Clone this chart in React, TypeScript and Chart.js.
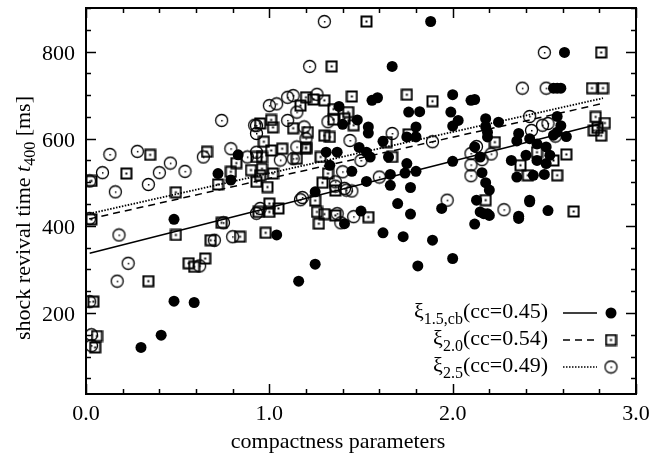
import React, { useEffect, useRef } from "react";
import { Chart, registerables } from "chart.js";

Chart.register(...registerables);

// ---- data ----
const xi15: [number, number][] = [
  [0.30, 121], [0.41, 149], [0.48, 227], [0.59, 224], [0.48, 415], [0.72, 520], [0.79, 505], [0.83, 563],
  [1.04, 379], [1.16, 273], [1.25, 312], [1.25, 478], [1.41, 405], [1.50, 434], [1.53, 502], [1.62, 384],
  [1.66, 518], [1.66, 493], [1.70, 451], [1.73, 375], [1.75, 543], [1.74, 521], [1.77, 427], [1.77, 488],
  [1.80, 525], [1.81, 308], [1.89, 367], [1.94, 440], [2.00, 325], [1.33, 539], [1.31, 569], [1.37, 569],
  [1.45, 525], [1.49, 580], [1.53, 569], [1.55, 558], [1.62, 594], [1.65, 558], [1.40, 633], [1.48, 643],
  [1.54, 627], [1.54, 613], [1.38, 674], [1.56, 688], [1.59, 694], [1.67, 766], [1.88, 869], [1.76, 661],
  [1.82, 662], [1.80, 627], [1.80, 604], [1.75, 604], [2.00, 701], [2.10, 688], [2.12, 690], [1.99, 661],
  [2.03, 642], [2.00, 629], [2.18, 646], [2.18, 628], [2.19, 615], [2.19, 604], [2.25, 638], [2.36, 612],
  [2.35, 595], [2.42, 600], [2.46, 588], [2.51, 581], [2.53, 562], [2.51, 543], [2.50, 518], [2.57, 651],
  [2.59, 630], [2.57, 615], [2.62, 605], [2.55, 608], [2.12, 581], [2.15, 558], [2.16, 522], [2.18, 499],
  [2.20, 482], [2.13, 459], [2.15, 432], [2.19, 428], [2.00, 548], [2.32, 550], [2.40, 562], [2.35, 512],
  [2.42, 459], [2.36, 422], [2.52, 435], [2.44, 516], [2.46, 550], [2.61, 798], [2.55, 716], [2.57, 716],
  [2.59, 716], [2.12, 404], [2.17, 428], [2.20, 424], [2.36, 417], [2.42, 455],
];

const xi20: [number, number][] = [
  [0.03, 415], [0.49, 379], [0.74, 407], [0.68, 367], [0.84, 375], [0.56, 314], [0.59, 306], [0.65, 325],
  [0.34, 273], [0.04, 226], [0.06, 147], [0.05, 121], [0.35, 563], [0.22, 520], [0.03, 503], [0.66, 570],
  [0.49, 477], [0.72, 495], [0.79, 524], [0.82, 544], [0.90, 528], [0.93, 558], [0.93, 501], [0.95, 635],
  [1.01, 643], [1.02, 626], [0.97, 593], [1.01, 573], [1.07, 577], [0.96, 558], [0.96, 531], [0.95, 516],
  [1.02, 520], [1.15, 554], [1.20, 577], [1.13, 624], [1.17, 676], [1.20, 695], [1.53, 869], [1.34, 766],
  [1.24, 690], [1.30, 688], [1.45, 697], [1.75, 701], [1.89, 686], [1.35, 668], [1.43, 661], [1.35, 644],
  [1.41, 646], [1.46, 631], [1.21, 615], [1.30, 607], [1.33, 604], [1.28, 558], [0.99, 489], [1.32, 520],
  [1.29, 499], [1.36, 481], [1.25, 458], [1.67, 558], [1.64, 592], [1.76, 610], [1.00, 451], [1.00, 432],
  [1.05, 440], [1.26, 432], [1.54, 420], [0.98, 384], [0.94, 432], [1.27, 405], [1.30, 427], [1.36, 424],
  [2.81, 798], [2.76, 716], [2.82, 716], [2.78, 650], [2.83, 636], [2.79, 625], [2.77, 619], [2.81, 607],
  [2.23, 592], [2.62, 564], [2.37, 539], [2.41, 516], [2.57, 516], [2.55, 550], [2.46, 569], [2.18, 459],
  [2.66, 433], [1.20, 580],
];

const xi25: [number, number][] = [
  [0.74, 642], [0.93, 630], [0.93, 612], [0.79, 577], [0.93, 569], [0.88, 558], [0.64, 558], [0.28, 571],
  [0.13, 564], [0.09, 522], [0.46, 544], [0.40, 522], [0.54, 525], [0.34, 495], [0.16, 478], [0.02, 503],
  [0.93, 429], [0.02, 417], [0.18, 379], [0.23, 314], [0.17, 273], [0.75, 407], [0.70, 367], [0.80, 375],
  [0.62, 308], [0.02, 226], [0.03, 150], [0.03, 125], [1.00, 676], [1.04, 680], [1.10, 695], [1.13, 699],
  [1.15, 661], [1.10, 642], [1.19, 627], [0.92, 631], [1.06, 551], [1.15, 581], [1.20, 600], [1.13, 554],
  [1.30, 869], [1.22, 766], [1.26, 702], [1.32, 639], [1.44, 596], [1.67, 612], [1.89, 593], [1.50, 550],
  [1.60, 512], [1.17, 460], [1.36, 501], [1.42, 482], [0.95, 440], [1.37, 428], [1.18, 465], [1.40, 524],
  [1.41, 486], [1.36, 491], [1.45, 480], [1.39, 407], [1.46, 421], [1.97, 459], [2.50, 798], [2.38, 716],
  [2.51, 716], [2.42, 651], [2.43, 619], [2.49, 631], [2.52, 635], [2.56, 606], [2.13, 582], [2.10, 566],
  [2.21, 565], [2.10, 540], [2.16, 552], [2.10, 515], [2.28, 437],
];

// regression lines (end points)
const fitX = [0.02, 2.82];
const fit15 = [337, 636];
const fit20 = [416, 681];
const fit25 = [428, 693];

// axes
const xMin = 0, xMax = 3.0, xMinorStep = 0.2;
const yMin = 14, yMax = 900, yMinorStep = 50;
const xTickValues = [0, 1, 2, 3];
const xTickLabels = ["0.0", "1.0", "2.0", "3.0"];
const yTickValues = [200, 400, 600, 800];
const yTickLabels = ["200", "400", "600", "800"];
const xTitle = "compactness parameters";

const legendItems = [
  { main: "ξ", sub: "1.5,cb", rest: "(cc=0.45)", dash: [] as number[], marker: "filled" },
  { main: "ξ", sub: "2.0", rest: "(cc=0.54)", dash: [7, 5], marker: "square" },
  { main: "ξ", sub: "2.5", rest: "(cc=0.49)", dash: [1.5, 1.5], marker: "circle" },
];

const FONT = "'Liberation Serif', 'DejaVu Serif', serif";

function makeSquare(): HTMLCanvasElement {
  const c = document.createElement("canvas");
  c.width = 13; c.height = 13;
  const g = c.getContext("2d")!;
  g.strokeStyle = "#000"; g.lineWidth = 2;
  g.strokeRect(1.5, 1.5, 10, 10);
  g.fillStyle = "#000";
  g.fillRect(5.5, 5.5, 2, 2);
  return c;
}
function makeCircle(): HTMLCanvasElement {
  const c = document.createElement("canvas");
  c.width = 15; c.height = 15;
  const g = c.getContext("2d")!;
  g.strokeStyle = "#000"; g.lineWidth = 1.3;
  g.beginPath(); g.arc(7.5, 7.5, 6, 0, Math.PI * 2); g.stroke();
  g.fillStyle = "#000";
  g.fillRect(7, 7, 1.5, 1.5);
  return c;
}

const toPts = (a: [number, number][]) => a.map(([x, y]) => ({ x, y }));
const toLine = (ys: number[]) => fitX.map((x, i) => ({ x, y: ys[i] }));

export default function App() {
  const ref = useRef<HTMLCanvasElement>(null);
  useEffect(() => {
    const sq = makeSquare();
    const ci = makeCircle();

    const framePlugin = {
      id: "frame",
      afterDraw(chart: any) {
        const { ctx, chartArea } = chart;
        const { left, right, top, bottom } = chartArea;
        const xs = chart.scales.x, ys = chart.scales.y;
        ctx.save();
        ctx.strokeStyle = "#000";
        ctx.lineWidth = 1.5;
        const seg = (x1: number, y1: number, x2: number, y2: number) => {
          ctx.beginPath(); ctx.moveTo(x1, y1); ctx.lineTo(x2, y2); ctx.stroke();
        };
        for (let i = 0; xMin + i * xMinorStep <= xMax + 1e-9; i++) {
          const v = xMin + i * xMinorStep;
          const major = xTickValues.some((t) => Math.abs(t - v) < 1e-6);
          const L = major ? 10 : 5;
          const px = Math.round(xs.getPixelForValue(v)) + 0.5;
          seg(px, bottom, px, bottom - L);
          seg(px, top, px, top + L);
        }
        for (let v = yMinorStep; v <= yMax + 1e-9; v += yMinorStep) {
          const major = yTickValues.includes(v);
          const L = major ? 10 : 5;
          const py = Math.round(ys.getPixelForValue(v)) + 0.5;
          seg(left, py, left + L, py);
          seg(right, py, right - L, py);
        }
        ctx.lineWidth = 2;
        ctx.strokeRect(left, top, right - left, bottom - top);

        // tick labels
        ctx.fillStyle = "#000";
        ctx.font = `22px ${FONT}`;
        ctx.textAlign = "center";
        ctx.textBaseline = "alphabetic";
        xTickValues.forEach((v, i) => ctx.fillText(xTickLabels[i], xs.getPixelForValue(v), bottom + 26));
        ctx.textAlign = "right";
        yTickValues.forEach((v, i) => ctx.fillText(yTickLabels[i], left - 11, ys.getPixelForValue(v) + 8));

        // x title
        ctx.textAlign = "center";
        ctx.fillText(xTitle, 338, 448);

        // y title (rotated, with italic t and subscript)
        ctx.save();
        ctx.translate(30, 218);
        ctx.rotate(-Math.PI / 2);
        const partA = "shock revival time ";
        const partT = "t";
        const partSub = "400";
        const partC = " [ms]";
        const fN = `22px ${FONT}`, fI = `italic 22px ${FONT}`, fS = `16px ${FONT}`;
        ctx.font = fN; const wA = ctx.measureText(partA).width; const wC = ctx.measureText(partC).width;
        ctx.font = fI; const wT = ctx.measureText(partT).width;
        ctx.font = fS; const wS = ctx.measureText(partSub).width;
        let cx = -(wA + wT + wS + wC) / 2;
        ctx.textAlign = "left";
        ctx.font = fN; ctx.fillText(partA, cx, 0); cx += wA;
        ctx.font = fI; ctx.fillText(partT, cx, 0); cx += wT;
        ctx.font = fS; ctx.fillText(partSub, cx, 5); cx += wS;
        ctx.font = fN; ctx.fillText(partC, cx, 0);
        ctx.restore();

        // legend
        const textRight = 548;
        legendItems.forEach((it, i) => {
          const base = 318 + i * 27;
          const midY = base - 5;
          ctx.font = fN; const w1 = ctx.measureText(it.main).width; const w3 = ctx.measureText(it.rest).width;
          ctx.font = fS; const w2 = ctx.measureText(it.sub).width;
          let tx = textRight - (w1 + w2 + w3);
          ctx.textAlign = "left";
          ctx.font = fN; ctx.fillText(it.main, tx, base); tx += w1;
          ctx.font = fS; ctx.fillText(it.sub, tx, base + 6); tx += w2;
          ctx.font = fN; ctx.fillText(it.rest, tx, base);
          ctx.lineWidth = 1.5;
          ctx.setLineDash(it.dash);
          seg(563, midY, 597, midY);
          ctx.setLineDash([]);
          if (it.marker === "filled") {
            ctx.beginPath(); ctx.arc(611, midY, 5.5, 0, Math.PI * 2); ctx.fill();
          } else if (it.marker === "square") {
            ctx.drawImage(sq, 611 - 6.5, midY - 6.5);
          } else {
            ctx.drawImage(ci, 611 - 7.5, midY - 7.5);
          }
        });
        ctx.restore();
      },
    };

    const chart = new Chart(ref.current!, {
      type: "scatter",
      data: {
        datasets: [
          { data: toPts(xi15), pointStyle: "circle", pointRadius: 5.5, backgroundColor: "#000", borderWidth: 0 },
          { data: toPts(xi20), pointStyle: sq as any, pointRadius: 6 },
          { data: toPts(xi25), pointStyle: ci as any, pointRadius: 7 },
          { data: toLine(fit15), showLine: true, borderColor: "#000", borderWidth: 1.5, pointRadius: 0 },
          { data: toLine(fit20), showLine: true, borderColor: "#000", borderWidth: 1.5, borderDash: [7, 5], pointRadius: 0 },
          { data: toLine(fit25), showLine: true, borderColor: "#000", borderWidth: 1.8, borderDash: [1.5, 1.5], pointRadius: 0 },
        ] as any,
      },
      options: {
        animation: false,
        responsive: true,
        maintainAspectRatio: false,
        layout: { padding: { top: 8, right: 16, left: 0, bottom: 0 } },
        plugins: { legend: { display: false }, tooltip: { enabled: false } },
        scales: {
          x: {
            type: "linear", min: xMin, max: xMax,
            grid: { display: false }, border: { display: false },
            ticks: { display: false },
            afterFit: (s: any) => { s.height = 63; },
          },
          y: {
            type: "linear", min: yMin, max: yMax,
            grid: { display: false }, border: { display: false },
            ticks: { display: false },
            afterFit: (s: any) => { s.width = 86; },
          },
        },
      } as any,
      plugins: [framePlugin],
    });
    return () => chart.destroy();
  }, []);

  return (
    <div style={{ position: "fixed", left: 0, top: 0, width: 652, height: 457, background: "#fff" }}>
      <canvas ref={ref} />
    </div>
  );
}
